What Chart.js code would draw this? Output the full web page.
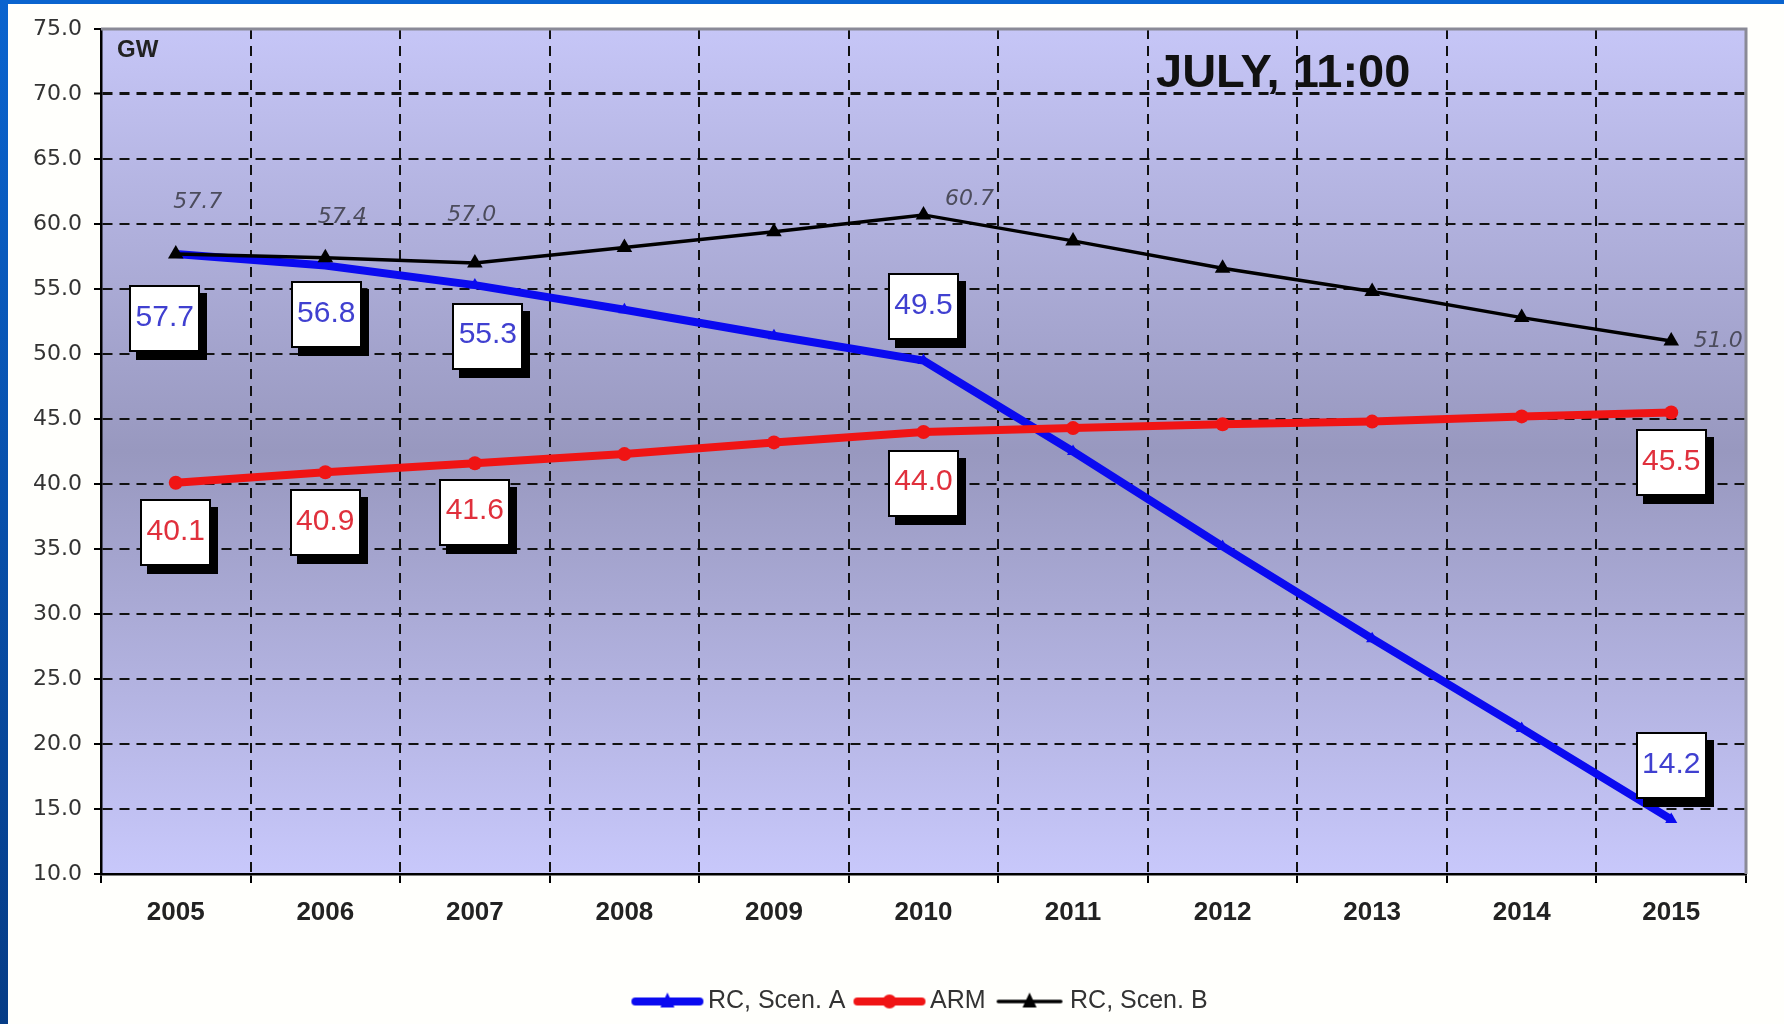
<!DOCTYPE html>
<html>
<head>
    <meta charset="utf-8">
    <title>JULY, 11:00</title>
    <script src="https://cdn.jsdelivr.net/npm/chart.js"></script>
    <style>
        html, body { margin: 0; padding: 0; background: #fffffc; }
        #wrap { position: relative; width: 1784px; height: 1024px; overflow: hidden; }
        #myChart { position: absolute; left: 0; top: 0; }
        #frameLeft { position: absolute; left: 0; top: 0; width: 8px; height: 1024px; background: linear-gradient(#0a64cf, #063c86); }
        #frameTop { position: absolute; left: 0; top: 0; width: 1784px; height: 4px; background: #0a64cf; }
    </style>
</head>
<body>
<div id="wrap">
    <canvas id="myChart" width="1784" height="1024"></canvas>
    <div id="frameLeft"></div>
    <div id="frameTop"></div>
</div>

<script>
    // data
    const years = ['2005', '2006', '2007', '2008', '2009', '2010', '2011', '2012', '2013', '2014', '2015'];
    const rcScenA = [57.7, 56.8, 55.3, 53.4, 51.4, 49.5, 42.5, 35.2, 28.1, 21.2, 14.2];
    const arm     = [40.1, 40.9, 41.6, 42.3, 43.2, 44.0, 44.3, 44.6, 44.8, 45.2, 45.5];
    const rcScenB = [57.7, 57.4, 57.0, 58.2, 59.4, 60.7, 58.7, 56.6, 54.8, 52.8, 51.0];
    const seriesNames = ['RC, Scen. A', 'ARM', 'RC, Scen. B'];
    const yMin = 10, yMax = 75, yStep = 5;
    const labeledYears = ['2005', '2006', '2007', '2010', '2015'];

    // label placement (pixels from the point)
    const blueBoxOffsets  = [[-11, 65], [1, 49], [13, 51], [0, -54], [0, -54]];
    const redBoxOffsets   = [[0, 50], [0, 50], [0, 49], [0, 51], [0, 50]];
    const blackTxtOffsets = [[22, -52], [17, -41], [-3, -48], [46, -16], [47, 0]];

    const BLUE = '#0a0af0', RED = '#f01414', BLACK = '#000000';

    function legendIcon(color, lineW, shape, len) {
        const c = document.createElement('canvas');
        c.width = 80; c.height = 26;
        const g = c.getContext('2d');
        const x0 = (80 - len) / 2;
        g.strokeStyle = color;
        g.fillStyle = color;
        g.lineWidth = lineW;
        g.lineCap = 'round';
        g.beginPath();
        g.moveTo(x0 + lineW / 2, 13);
        g.lineTo(x0 + len - lineW / 2, 13);
        g.stroke();
        g.beginPath();
        if (shape === 'triangle') {
            g.moveTo(40, 4); g.lineTo(47, 19); g.lineTo(33, 19); g.closePath();
        } else {
            g.arc(40, 13, 7, 0, Math.PI * 2);
        }
        g.fill();
        return c;
    }
    const legendIcons = [
        legendIcon(BLUE, 8, 'triangle', 72),
        legendIcon(RED, 8, 'circle', 72),
        legendIcon(BLACK, 3.5, 'triangle', 66)
    ];

    function drawBox(ctx, cx, cy, text, color) {
        const w = 71, h = 67;
        const x = Math.round(cx - w / 2), y = Math.round(cy - h / 2);
        ctx.fillStyle = '#000';
        ctx.fillRect(x + 7, y + 8, w, h);
        ctx.fillStyle = '#fff';
        ctx.fillRect(x, y, w, h);
        ctx.lineWidth = 2;
        ctx.strokeStyle = '#000';
        ctx.strokeRect(x + 1, y + 1, w - 2, h - 2);
        ctx.font = '30px "Liberation Sans"';
        ctx.fillStyle = color;
        ctx.textAlign = 'center';
        ctx.textBaseline = 'middle';
        ctx.fillText(text, cx, cy - 1);
    }

    const decor = {
        id: 'decor',
        beforeDraw(chart) {
            const {ctx, chartArea: a} = chart;
            const g = ctx.createLinearGradient(0, a.top, 0, a.bottom);
            g.addColorStop(0, '#c6c6f7');
            g.addColorStop(0.5, '#9898bf');
            g.addColorStop(1, '#c8c8fb');
            ctx.save();
            ctx.fillStyle = g;
            ctx.fillRect(a.left, a.top, a.right - a.left, a.bottom - a.top);
            ctx.restore();
        },
        beforeDatasetsDraw(chart) {
            const {ctx, chartArea: a} = chart;
            ctx.save();
            ctx.strokeStyle = '#8a8a96';
            ctx.lineWidth = 3;
            ctx.beginPath();
            ctx.moveTo(a.left, a.top);
            ctx.lineTo(a.right, a.top);
            ctx.lineTo(a.right, a.bottom);
            ctx.stroke();
            ctx.fillStyle = '#222';
            ctx.textAlign = 'left';
            ctx.textBaseline = 'alphabetic';
            ctx.font = 'bold 24px "Liberation Sans"';
            ctx.fillText('GW', a.left + 16, a.top + 28);
            ctx.fillStyle = '#111';
            ctx.font = 'bold 47px "Liberation Sans"';
            ctx.fillText('JULY, 11:00', a.left + 1055, a.top + 58);
            ctx.restore();
        },
        afterDatasetsDraw(chart) {
            const {ctx} = chart;
            const xs = chart.scales.x, ys = chart.scales.y;
            ctx.save();
            labeledYears.forEach((yr, k) => {
                const i = years.indexOf(yr);
                const px = xs.getPixelForValue(i);
                // black italic values
                ctx.font = 'italic 22px "DejaVu Sans"';
                ctx.fillStyle = '#4c4c5c';
                ctx.textAlign = 'center';
                ctx.textBaseline = 'middle';
                ctx.fillText(rcScenB[i].toFixed(1), px + blackTxtOffsets[k][0], ys.getPixelForValue(rcScenB[i]) + blackTxtOffsets[k][1]);
                drawBox(ctx, px + redBoxOffsets[k][0], ys.getPixelForValue(arm[i]) + redBoxOffsets[k][1], arm[i].toFixed(1), '#e0303c');
                drawBox(ctx, px + blueBoxOffsets[k][0], ys.getPixelForValue(rcScenA[i]) + blueBoxOffsets[k][1], rcScenA[i].toFixed(1), '#4040d0');
            });
            ctx.restore();
        }
    };

    const ctx = document.getElementById('myChart').getContext('2d');
    const chart = new Chart(ctx, {
        type: 'line',
        data: {
            labels: years,
            datasets: [
                {
                    label: seriesNames[0],
                    data: rcScenA,
                    borderColor: BLUE,
                    backgroundColor: BLUE,
                    borderWidth: 8,
                    pointStyle: 'triangle',
                    pointRadius: 7,
                    pointBorderWidth: 0,
                    fill: false,
                    order: 3
                },
                {
                    label: seriesNames[1],
                    data: arm,
                    borderColor: RED,
                    backgroundColor: RED,
                    borderWidth: 8,
                    pointStyle: 'circle',
                    pointRadius: 7,
                    pointBorderWidth: 0,
                    fill: false,
                    order: 2
                },
                {
                    label: seriesNames[2],
                    data: rcScenB,
                    borderColor: BLACK,
                    backgroundColor: BLACK,
                    borderWidth: 3.5,
                    pointStyle: 'triangle',
                    pointRadius: 9,
                    pointBorderWidth: 0,
                    fill: false,
                    order: 1
                }
            ]
        },
        options: {
            responsive: false,
            animation: false,
            events: [],
            layout: { padding: { left: 0, right: 38, top: 29, bottom: 0 } },
            scales: {
                x: {
                    offset: true,
                    grid: {
                        offset: true,
                        color: '#111',
                        lineWidth: 2,
                        tickLength: 9,
                        tickColor: '#000',
                        tickWidth: 2
                    },
                    border: { display: true, color: '#000', width: 2.5, dash: [10, 7] },
                    ticks: {
                        color: '#222',
                        padding: 14,
                        maxRotation: 0,
                        font: { family: 'Liberation Sans', size: 26, weight: 'bold' }
                    },
                    afterFit: s => { s.height = 99; }
                },
                y: {
                    min: yMin,
                    max: yMax,
                    grid: {
                        color: c => (c.tick && c.tick.value === yMax) ? 'rgba(0,0,0,0)' : '#111',
                        lineWidth: c => (c.tick && c.tick.value === 70) ? 3 : 2,
                        tickLength: 7,
                        tickColor: '#000',
                        tickWidth: 2
                    },
                    border: { display: true, color: '#000', width: 2.5, dash: [10, 7] },
                    ticks: {
                        stepSize: yStep,
                        color: '#333',
                        padding: 12,
                        font: { family: 'DejaVu Sans', size: 22 },
                        callback: v => Number(v).toFixed(1)
                    },
                    afterFit: s => { s.width = 101; }
                }
            },
            plugins: {
                tooltip: { enabled: false },
                legend: {
                    position: 'bottom',
                    fullSize: false,
                    labels: {
                        usePointStyle: true,
                        pointStyleWidth: 56,
                        padding: 16,
                        color: '#333',
                        font: { family: 'Liberation Sans', size: 25 },
                        sort: (a, b) => a.datasetIndex - b.datasetIndex,
                        generateLabels(chart) {
                            const items = Chart.defaults.plugins.legend.labels.generateLabels(chart);
                            items.forEach(it => { it.pointStyle = legendIcons[it.datasetIndex]; });
                            return items;
                        }
                    }
                }
            }
        },
        plugins: [decor]
    });
</script>
</body>
</html>
